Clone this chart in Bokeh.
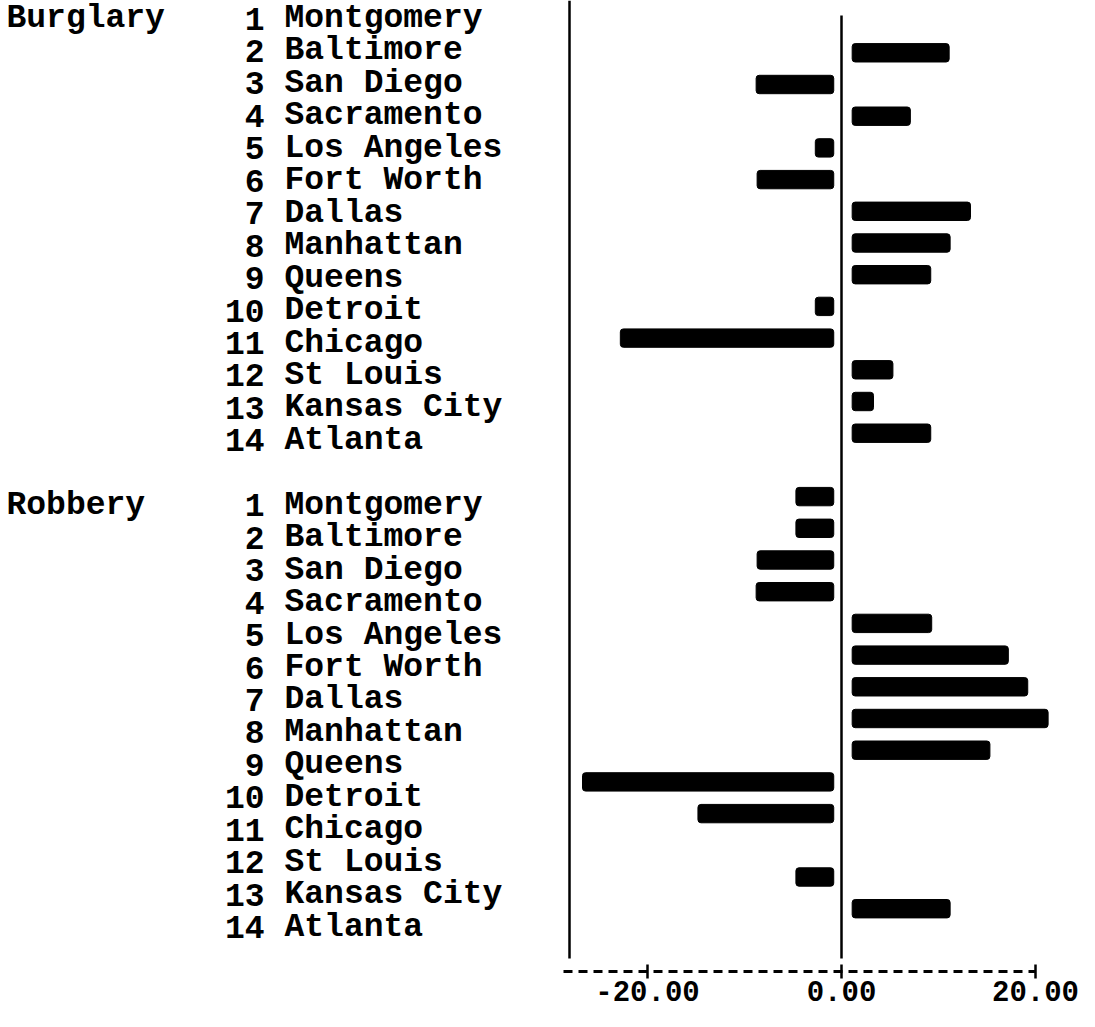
from bokeh.plotting import figure
from bokeh.models import ColumnDataSource, Range1d, FixedTicker, NumeralTickFormatter
from bokeh.embed import file_html
from bokeh.resources import INLINE
from bokeh.core.properties import value

# ---------------- data ----------------
groups = ["Burglary", "Robbery"]
cities = ["Montgomery", "Baltimore", "San Diego", "Sacramento", "Los Angeles",
          "Fort Worth", "Dallas", "Manhattan", "Queens", "Detroit", "Chicago",
          "St Louis", "Kansas City", "Atlanta"]
burglary = [0, 11.1, -8.8, 7.1, -2.7, -8.7, 13.3, 11.2, 9.2, -2.7, -22.8, 5.3, 3.3, 9.2]
robbery = [-4.7, -4.7, -8.7, -8.8, 9.3, 17.2, 19.2, 21.3, 15.3, -26.7, -14.8, 0, -4.7, 11.2]
ticks = [-20, 0, 20]

# ---------------- layout / style constants ----------------
FRAME_W, FRAME_H = 1079, 1011
ZERO_PX, PX_PER_UNIT = 841, 9.7          # screen position of 0 and scale
BAR_Y0, BAR_DY = 20.6, 31.7              # bar row placement (px)
LAB_Y0, LAB_DY = 18.0, 32.45             # label row placement (px)
AXIS_PX = 971                            # screen y of the dashed axis
LINE_END_PX = 958                        # bottom end of the vertical lines
GROUP_STEP = 15                          # 14 rows + one blank row
GAP_NEG, GAP_POS = 0.8, 1.1              # bars start a little off the zero line
BAR_H = 0.58
FONT = "Liberation Mono"
LAB_SIZE, TICK_SIZE = "33px", "29px"


def px2x(px):
    return (px - ZERO_PX) / PX_PER_UNIT


def px2row(px):
    return (px - BAR_Y0) / BAR_DY


x_range = Range1d(px2x(0), px2x(FRAME_W))
y_range = Range1d(px2row(FRAME_H), px2row(0))
lab_range = Range1d((FRAME_H - LAB_Y0) / LAB_DY, -LAB_Y0 / LAB_DY)

p = figure(frame_width=FRAME_W, frame_height=FRAME_H,
           x_range=x_range, y_range=y_range,
           y_axis_location=None, toolbar_location=None,
           output_backend="svg",
           min_border_left=0, min_border_right=0, min_border_top=0,
           min_border_bottom=0,
           background_fill_color="white", border_fill_color="white",
           outline_line_color=None)
p.extra_y_ranges = {"lab": lab_range}
p.xgrid.visible = False
p.ygrid.visible = False

# ---------------- bars ----------------
bl, br, by = [], [], []
gl_y, gl_t = [], []
nums, names, rows = [], [], []
for gi, (g, vals) in enumerate(zip(groups, [burglary, robbery])):
    gl_t.append(g)
    gl_y.append(gi * GROUP_STEP)
    for i, (c, v) in enumerate(zip(cities, vals)):
        row = gi * GROUP_STEP + i
        nums.append(str(i + 1))
        names.append(c)
        rows.append(row)
        if v < 0:
            bl.append(v); br.append(-GAP_NEG); by.append(row)
        elif v > 0:
            bl.append(GAP_POS); br.append(v); by.append(row)

bars = ColumnDataSource(dict(left=bl, right=br, y=by))
p.hbar(y="y", left="left", right="right", height=BAR_H, source=bars,
       fill_color="black", line_color="black", line_width=1, border_radius=3)

# vertical frame line at left and zero line
p.segment(x0=[px2x(569)], x1=[px2x(569)], y0=[px2row(0)], y1=[px2row(LINE_END_PX)],
          line_color="black", line_width=2.5)
p.segment(x0=[0], x1=[0], y0=[px2row(15)], y1=[px2row(LINE_END_PX)],
          line_color="black", line_width=2.5)

# ---------------- labels ----------------
txt = dict(text_font=value(FONT), text_font_size=LAB_SIZE,
           text_font_style="bold", text_color="black", text_baseline="middle",
           y_range_name="lab")
p.text(x=[px2x(6)] * len(gl_t), y=gl_y, text=gl_t, text_align="left", **txt)
p.text(x=[px2x(264)] * len(nums), y=rows, text=nums, text_align="right", **txt)
p.text(x=[px2x(284)] * len(names), y=rows, text=names, text_align="left", **txt)

# ---------------- x axis ----------------
ax = p.xaxis[0]
ax.fixed_location = px2row(AXIS_PX)
ax.ticker = FixedTicker(ticks=ticks)
ax.formatter = NumeralTickFormatter(format="0.00")
ax.bounds = (px2x(563), 20)
ax.axis_line_color = "black"
ax.axis_line_width = 3
ax.axis_line_dash = "9 6"
ax.major_tick_line_color = "black"
ax.major_tick_line_width = 2.5
ax.major_tick_in = 7
ax.major_tick_out = 7
ax.minor_tick_line_color = None
ax.major_label_standoff = 2
ax.major_label_text_font = FONT
ax.major_label_text_font_size = TICK_SIZE
ax.major_label_text_font_style = "bold"
ax.major_label_text_color = "black"

open("out.html", "w").write(file_html(p, INLINE))
